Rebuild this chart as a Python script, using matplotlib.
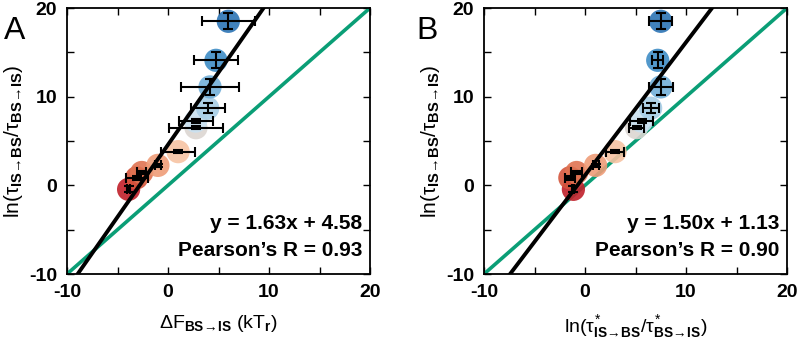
import matplotlib
matplotlib.use('Agg')
import matplotlib.pyplot as plt
import numpy as np

plt.rcParams['font.family'] = ['Liberation Sans', 'DejaVu Sans']
plt.rcParams['mathtext.fontset'] = 'custom'
plt.rcParams['mathtext.rm'] = 'Liberation Sans'
plt.rcParams['mathtext.bf'] = 'Liberation Sans:bold'
plt.rcParams['mathtext.it'] = 'Liberation Sans'
plt.rcParams['axes.unicode_minus'] = False

# ordinate shared by both panels: ln(tau_IS->BS / tau_BS->IS)
y_val = [-0.45, 0.85, 1.45, 2.25, 3.8, 6.5, 7.25, 8.7, 11.1, 14.1, 18.5]
y_err = [0.35, 0.2, 0.2, 0.2, 0.2, 0.2, 0.2, 0.55, 0.9, 0.9, 0.9]

# panel A : free energy
xA = [-3.9, -3.1, -2.6, -1.0, 1.0, 2.77, 2.74, 3.93, 4.16, 4.75, 5.97]
xA_err = [0.15, 1.1, 0.46, 0.33, 1.65, 2.7, 1.7, 1.7, 2.9, 2.15, 2.6]

# panel B : ln(tau*)
xB = [-1.15, -1.5, -0.83, 1.05, 2.97, 5.1, 5.6, 6.5, 7.5, 7.2, 7.5]
xB_err = [0.1, 0.5, 0.58, 0.3, 0.9, 0.7, 1.1, 0.8, 1.2, 0.56, 1.15]

fitA = (1.63, 4.58, 0.93)
fitB = (1.50, 1.13, 0.90)

cols = ['#c0202a', '#d4553c', '#df7352', '#ef9c78', '#f7c3a3', '#dcd6d2',
        '#c9e1f1', '#a6cde6', '#72afd9', '#3f8dc6', '#2c74b5']

ARR = r'\!\rightarrow\!'
ylab = (r'ln($\tau_{\mathbf{IS}' + ARR + r'\mathbf{BS}}$/$\tau_{\mathbf{BS}'
        + ARR + r'\mathbf{IS}}$)')
xlabA = r'$\Delta$F$_{\mathbf{BS}' + ARR + r'\mathbf{IS}}$ (kT$_{\mathbf{r}}$)'
xlabB = (r'ln($\tau^{*}_{\mathbf{IS}' + ARR + r'\mathbf{BS}}$/$\tau^{*}_{\mathbf{BS}'
         + ARR + r'\mathbf{IS}}$)')

fig = plt.figure(figsize=(8, 3.39), dpi=100)
axA = fig.add_axes([0.08375, 0.1917, 0.37875, 0.7847])
axB = fig.add_axes([0.605, 0.1917, 0.37875, 0.7847])


def panel(ax, x, xe, fit, letter, lx, xlabel):
    xx = np.array([-10, 20])
    ax.plot(xx, xx, color='#0a9e76', lw=2.6, zorder=2)
    ax.plot(xx, fit[0] * xx + fit[1], color='black', lw=2.8, zorder=4)
    ax.scatter(x, y_val, s=280, c=cols, alpha=0.9, edgecolors='none', zorder=3)
    ax.errorbar(x, y_val, xerr=xe, yerr=y_err, fmt='none', ecolor='black',
                elinewidth=1.5, capsize=3.5, capthick=1.5, zorder=5)
    ax.set_xlim(-10, 20)
    ax.set_ylim(-10, 20)
    ax.set_xticks([-10, 0, 10, 20])
    ax.set_yticks([-10, 0, 10, 20])
    ax.set_xticks([-5, 5, 15], minor=True)
    ax.set_yticks([-5, 5, 15], minor=True)
    ax.tick_params(which='both', direction='in', top=True, right=True,
                   length=5, width=1, labelsize=14, pad=7)
    for lab in ax.get_xticklabels() + ax.get_yticklabels():
        lab.set_fontweight('bold')
    for s in ax.spines.values():
        s.set_linewidth(1.3)
    ax.text(0.975, 0.19, 'y = %.2fx + %.2f' % (fit[0], fit[1]),
            transform=ax.transAxes, ha='right', va='center',
            fontsize=15, fontweight='bold')
    ax.text(0.975, 0.09, 'Pearson\u2019s R = %.2f' % fit[2],
            transform=ax.transAxes, ha='right', va='center',
            fontsize=15, fontweight='bold')
    ax.text(lx, 0.915, letter, transform=ax.transAxes, ha='center',
            va='center', fontsize=23)
    ax.set_xlabel(xlabel, fontsize=14, labelpad=9)
    ax.set_ylabel(ylab, fontsize=15, labelpad=3)


panel(axA, xA, xA_err, fitA, 'A', -0.172, xlabA)
panel(axB, xB, xB_err, fitB, 'B', -0.188, xlabB)

fig.savefig('out.png', dpi=100)
